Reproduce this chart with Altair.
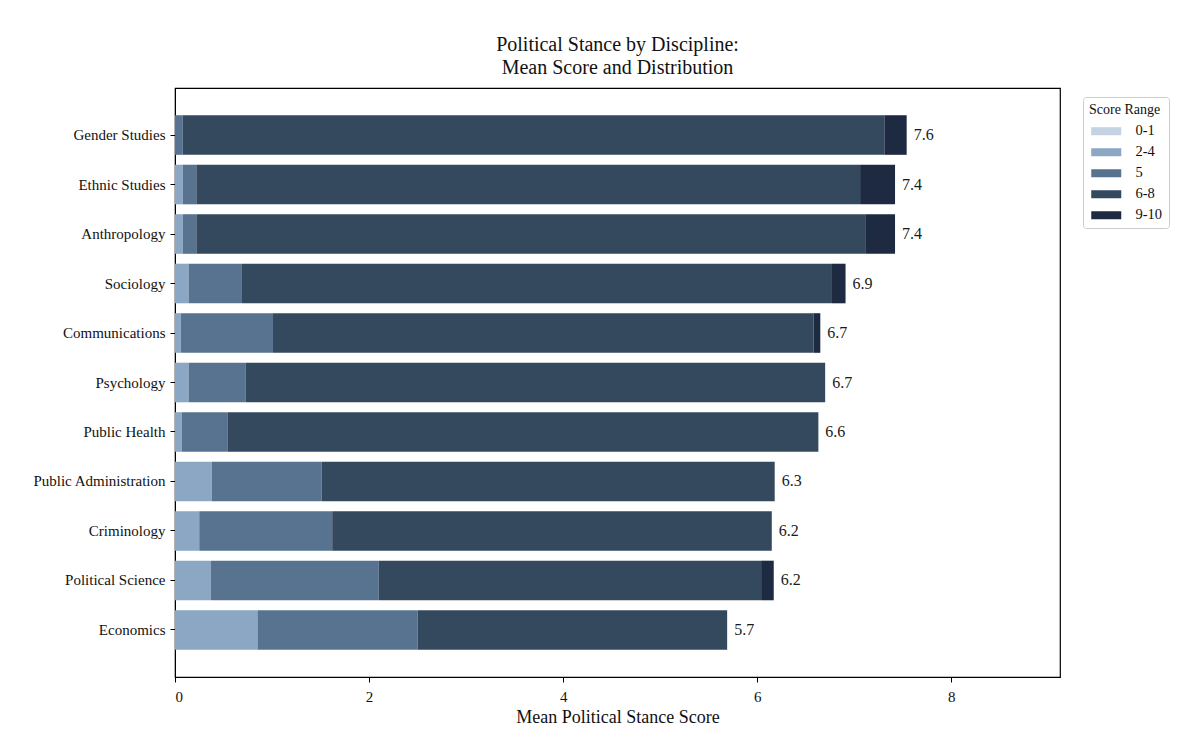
import altair as alt
import pandas as pd

disciplines = ["Gender Studies", "Ethnic Studies", "Anthropology", "Sociology",
               "Communications", "Psychology", "Public Health",
               "Public Administration", "Criminology", "Political Science", "Economics"]
mean_labels = ["7.6", "7.4", "7.4", "6.9", "6.7", "6.7", "6.6", "6.3", "6.2", "6.2", "5.7"]
ranges = ["0-1", "2-4", "5", "6-8", "9-10"]
seg_0_1 = [0.00, 0.00, 0.00, 0.00, 0.00, 0.00, 0.00, 0.00, 0.00, 0.00, 0.00]
seg_2_4 = [0.00, 0.08, 0.08, 0.14, 0.06, 0.14, 0.07, 0.38, 0.25, 0.37, 0.85]
seg_5 = [0.08, 0.14, 0.14, 0.55, 0.95, 0.59, 0.47, 1.13, 1.37, 1.73, 1.65]
seg_6_8 = [7.23, 6.84, 6.90, 6.08, 5.57, 5.97, 6.09, 4.67, 4.53, 3.94, 3.19]
seg_9_10 = [0.23, 0.36, 0.30, 0.14, 0.07, 0.00, 0.00, 0.00, 0.00, 0.13, 0.00]
colors = ["#c4d2e1", "#8ba7c4", "#58738f", "#34495e", "#1d2a42"]

FONT = "Liberation Serif"

segs = [seg_0_1, seg_2_4, seg_5, seg_6_8, seg_9_10]
rows = []
for i, d in enumerate(disciplines):
    for k, r in enumerate(ranges):
        rows.append({"discipline": d, "range": r, "order": k,
                     "value": segs[k][i], "label": mean_labels[i]})
df = pd.DataFrame(rows)

y_enc = alt.Y("discipline:N", sort=disciplines,
              scale=alt.Scale(paddingInner=0.2, paddingOuter=0.55),
              axis=alt.Axis(title=None, labelFontSize=15, labelPadding=5, tickSize=5))

bars = alt.Chart(df).mark_bar().encode(
    y=y_enc,
    x=alt.X("value:Q", stack="zero",
            scale=alt.Scale(domain=[0, 9.12], nice=False, zero=True),
            axis=alt.Axis(values=[0, 2, 4, 6, 8], format="d", title="Mean Political Stance Score",
                          labelFontSize=15, tickSize=5, labelPadding=7,
                          titlePadding=4, titleFontSize=18)),
    color=alt.Color("range:N", scale=alt.Scale(domain=ranges, range=colors),
                    legend=alt.Legend(title="Score Range", orient="none",
                                      legendX=908, legendY=9)),
    order=alt.Order("order:Q"),
)

labels = alt.Chart(df).transform_aggregate(
    total="sum(value)", groupby=["discipline", "label"]
).mark_text(align="left", baseline="middle", dx=7, font=FONT, fontSize=16, color="#1a1a1a").encode(
    y=alt.Y("discipline:N", sort=disciplines),
    x=alt.X("total:Q"),
    text="label:N",
)

chart = alt.layer(bars, labels).properties(
    width=885, height=589,
    title=alt.Title(["Political Stance by Discipline:", "Mean Score and Distribution"],
                    font=FONT, fontSize=20, fontWeight="normal", color="#111111",
                    lineHeight=23, offset=10, anchor="middle", frame="group"),
    padding={"left": 167, "top": 80, "right": 120, "bottom": 54},
    autosize="none",
).configure_view(
    stroke="black", strokeWidth=1.2
).configure_axis(
    labelFont=FONT, titleFont=FONT, labelColor="#111111", titleColor="#111111",
    titleFontWeight="normal", domainColor="black", tickColor="black", grid=False,
).configure_legend(
    padding=6, strokeColor="#cccccc", fillColor="white",
    cornerRadius=3, titleFont=FONT, labelFont=FONT, titleFontSize=14, labelFontSize=14.5,
    titleFontWeight="normal", titleColor="#111111", labelColor="#111111",
    symbolType="M-1,-0.8H5V0.8H-1Z", symbolSize=100, symbolStrokeWidth=0,
    labelOffset=32, rowPadding=6, titlePadding=7,
)

chart.save("out.html", embed_options={"renderer": "svg", "actions": False})
